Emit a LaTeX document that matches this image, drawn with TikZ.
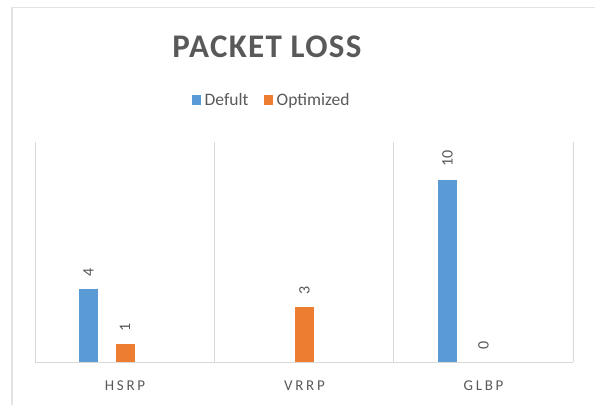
\documentclass[tikz,border=0pt]{standalone}
\usepackage{fontspec}
\setmainfont{Carlito}
\newfontfamily\catfont[LetterSpace=18]{Carlito}
\newfontfamily\titlefont[LetterSpace=4]{Carlito}
\definecolor{sblue}{HTML}{5B9BD5}
\definecolor{sorange}{HTML}{ED7D31}
\definecolor{gridc}{HTML}{D9D9D9}
\definecolor{txt}{HTML}{595959}
\definecolor{framec}{HTML}{E3E3E3}
\tikzset{
  gridline/.style={draw=gridc, line width=1pt},
  barb/.style={fill=sblue, draw=none},
  baro/.style={fill=sorange, draw=none},
  vlabel/.style={rotate=90, anchor=west, inner sep=0pt, text=txt, font=\fontsize{16}{16}\selectfont},
  catlabel/.style={text=txt, inner sep=0pt, anchor=base, font=\catfont\fontsize{15}{15}\selectfont},
  legtext/.style={anchor=base west, inner sep=0pt, text=txt, font=\fontsize{17.5}{17.5}\selectfont},
}
\begin{document}
\begin{tikzpicture}[x=1pt,y=-1pt]
\useasboundingbox (0,0) rectangle (595,405);
% outer frame
\draw[draw=framec, line width=1.2pt] (12,405) -- (12,7.5) -- (595,7.5);
% title
\node[anchor=base, inner sep=0pt, text=txt, font=\titlefont\bfseries\fontsize{33}{33}\selectfont] (title) at (267,57) {PACKET LOSS};
% legend
\fill[sblue] (192,95) rectangle (201,105);
\node[legtext] (ld) at (204.5,105.5) {Defult};
\fill[sorange] (264,95) rectangle (273,105);
\node[legtext] (lo) at (276.5,105.5) {Optimized};
% grid
\foreach \x in {35,214.3,393.7,573} \draw[gridline] (\x,142) -- (\x,362);
\draw[gridline] (35,362) -- (573,362);
% bars (18.25 px per unit, baseline 362)
\fill[barb] (79,362) rectangle (98,289);
\fill[baro] (115.5,362) rectangle (134.5,343.75);
\fill[baro] (295,362) rectangle (314,307.25);
\fill[barb] (438,362) rectangle (457,179.5);
% data labels
\node[vlabel] (v1) at (88.5,276.5) {4};
\node[vlabel] (v2) at (125,331.25) {1};
\node[vlabel] (v3) at (304.5,294.75) {3};
\node[vlabel] (v4) at (447.5,166.5) {10};
\node[vlabel] (v5) at (483.5,349.5) {0};
% category labels
\node[catlabel] (c1) at (125,390) {HSRP};
\node[catlabel] (c2) at (304.5,390) {VRRP};
\node[catlabel] (c3) at (483.5,390) {GLBP};
\end{tikzpicture}
\end{document}
